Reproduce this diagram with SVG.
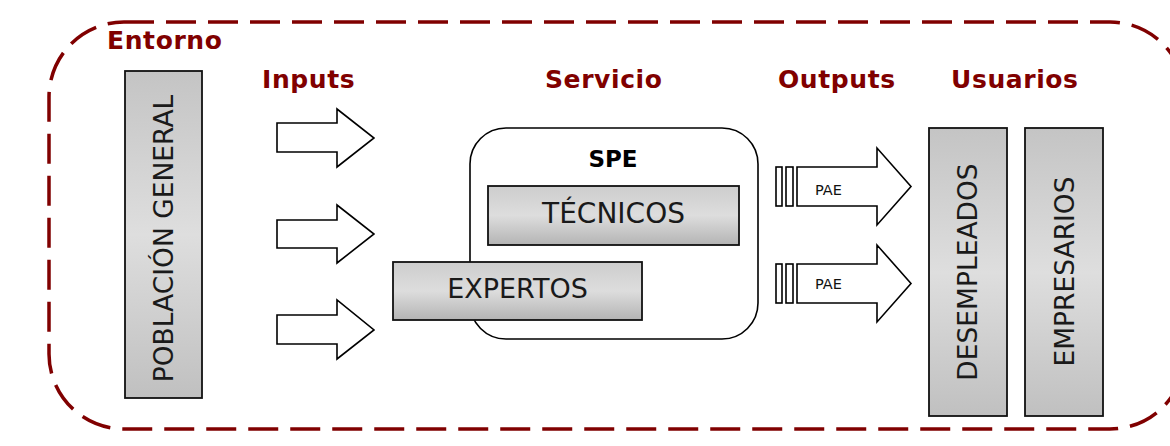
<svg xmlns="http://www.w3.org/2000/svg" width="1170" height="446" viewBox="0 0 1170 446">
  <defs>
    <linearGradient id="gv" x1="0" y1="0" x2="0" y2="1">
      <stop offset="0" stop-color="#c4c4c4"/>
      <stop offset="0.5" stop-color="#dedede"/>
      <stop offset="1" stop-color="#c0c0c0"/>
    </linearGradient>
    <linearGradient id="gh" x1="0" y1="0" x2="0" y2="1">
      <stop offset="0" stop-color="#cdcdcd"/>
      <stop offset="0.5" stop-color="#dddddd"/>
      <stop offset="1" stop-color="#b4b4b4"/>
    </linearGradient>
  </defs>
  <style>
    .hdr { font-family: "DejaVu Sans", Verdana, sans-serif; font-weight: bold; font-size: 25px; letter-spacing: 0.6px; fill: #800000; }
    .lbl { font-family: "DejaVu Sans", Verdana, sans-serif; font-size: 26.5px; fill: #1a1a1a; }
    .small { font-family: "DejaVu Sans", Verdana, sans-serif; font-size: 14.5px; fill: #111; }
    .boxv { fill: url(#gv); stroke: #111; stroke-width: 1.8; }
    .boxh { fill: url(#gh); stroke: #111; stroke-width: 1.8; }
    .arrow { fill: #fff; stroke: #000; stroke-width: 1.6; stroke-linejoin: miter; }
  </style>

  <rect width="1170" height="446" fill="#fff"/>

  <g id="entorno">
    <rect x="49" y="22" width="1136" height="407" rx="75" ry="75" fill="none" stroke="#800000" stroke-width="3.5" stroke-dasharray="30 12"/>
    <text class="hdr" x="107" y="49">Entorno</text>
  </g>

  <g id="headers">
    <text class="hdr" x="262" y="88">Inputs</text>
    <text class="hdr" x="545" y="88">Servicio</text>
    <text class="hdr" x="778" y="88">Outputs</text>
    <text class="hdr" x="951" y="88">Usuarios</text>
  </g>

  <g id="poblacion">
    <rect class="boxv" x="125" y="71" width="77" height="327"/>
    <text class="lbl" text-anchor="middle" transform="translate(173,238.5) rotate(-90)">POBLACIÓN GENERAL</text>
  </g>

  <g id="connectors">
    <path class="arrow" d="M277,123 H337 V109 L374,138 L337,167 V152 H277 Z"/>
    <path class="arrow" d="M277,220 H337 V205 L374,234 L337,263 V248 H277 Z"/>
    <path class="arrow" d="M277,315 H337 V300 L374,330 L337,359 V344 H277 Z"/>
    <g id="pae1">
      <rect class="arrow" x="776" y="167" width="6" height="39"/>
      <rect class="arrow" x="786" y="167" width="7" height="39"/>
      <path class="arrow" d="M797,167 H877 V148 L911,186.5 L877,225 V206 H797 Z"/>
      <text class="small" x="815" y="195">PAE</text>
    </g>
    <g id="pae2">
      <rect class="arrow" x="776" y="264" width="6" height="39"/>
      <rect class="arrow" x="786" y="264" width="7" height="39"/>
      <path class="arrow" d="M797,264 H877 V245 L911,283.5 L877,322 V303 H797 Z"/>
      <text class="small" x="815" y="289">PAE</text>
    </g>
  </g>

  <g id="spe">
    <rect x="470" y="128" width="288" height="211" rx="36" ry="36" fill="#fff" stroke="#000" stroke-width="1.6"/>
    <text class="hdr" x="613" y="167" text-anchor="middle" style="fill:#000;font-size:23px;letter-spacing:0">SPE</text>
  </g>

  <g id="tecnicos">
    <rect class="boxh" x="488" y="186" width="251" height="59"/>
    <text class="lbl" x="613.5" y="223" text-anchor="middle" style="font-size:28px">TÉCNICOS</text>
  </g>

  <g id="expertos">
    <rect class="boxh" x="393" y="262" width="249" height="58"/>
    <text class="lbl" x="517.5" y="298" text-anchor="middle" style="font-size:27px">EXPERTOS</text>
  </g>

  <g id="desempleados">
    <rect class="boxv" x="929" y="128" width="78" height="288"/>
    <text class="lbl" text-anchor="middle" transform="translate(977,272) rotate(-90)">DESEMPLEADOS</text>
  </g>

  <g id="empresarios">
    <rect class="boxv" x="1025" y="128" width="78" height="288"/>
    <text class="lbl" text-anchor="middle" transform="translate(1074,271.5) rotate(-90)">EMPRESARIOS</text>
  </g>
</svg>
